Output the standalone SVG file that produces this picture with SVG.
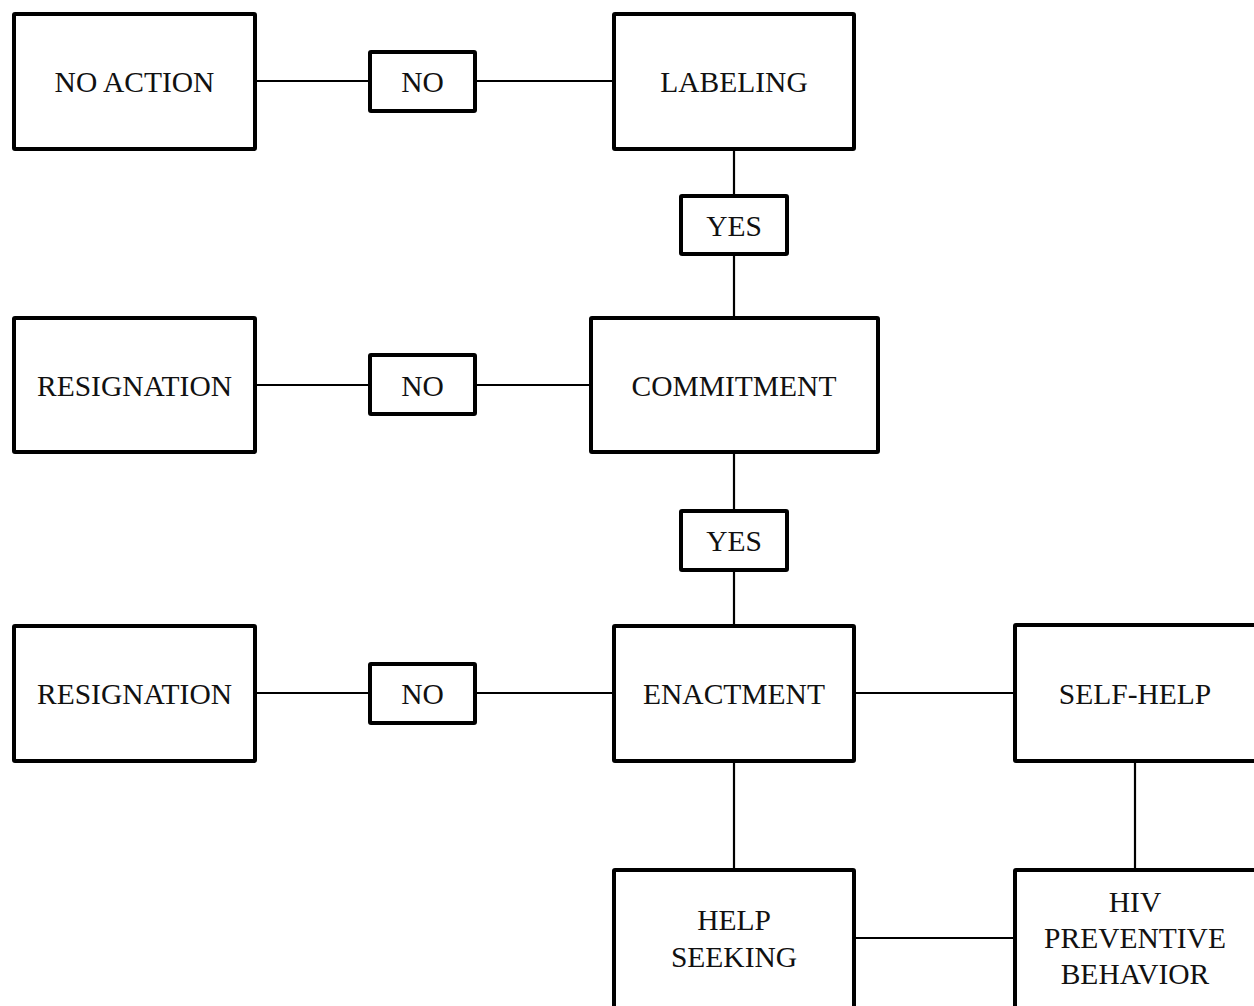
<svg xmlns="http://www.w3.org/2000/svg" width="1254" height="1006" viewBox="0 0 1254 1006">
<style>
.box{fill:#fff;stroke:#000;stroke-width:4;stroke-linejoin:round}
.lbl{fill:#fff;stroke:#000;stroke-width:4;stroke-linejoin:round}
.t{font-family:"Liberation Serif","Times New Roman",serif;font-size:29.5px;fill:#111;text-anchor:middle}
.c{stroke:#000;stroke-width:2.2;fill:none}
</style>
<rect width="1254" height="1006" fill="#fff"/>
<g id="connectors">
<line class="c" x1="256" y1="81" x2="370" y2="81"/>
<line class="c" x1="476" y1="81" x2="612" y2="81"/>
<line class="c" x1="734" y1="150" x2="734" y2="195"/>
<line class="c" x1="734" y1="255" x2="734" y2="317"/>
<line class="c" x1="256" y1="385" x2="370" y2="385"/>
<line class="c" x1="476" y1="385" x2="590" y2="385"/>
<line class="c" x1="734" y1="453" x2="734" y2="510"/>
<line class="c" x1="734" y1="571" x2="734" y2="625"/>
<line class="c" x1="256" y1="693" x2="370" y2="693"/>
<line class="c" x1="476" y1="693" x2="612" y2="693"/>
<line class="c" x1="856" y1="693" x2="1014" y2="693"/>
<line class="c" x1="734" y1="762" x2="734" y2="869"/>
<line class="c" x1="1135" y1="762" x2="1135" y2="869"/>
<line class="c" x1="856" y1="938" x2="1014" y2="938"/>
</g>
<g id="no-action"><rect class="box" x="14" y="14" width="241" height="135" rx="1"/><text class="t" x="134.5" y="91.5">NO ACTION</text></g>
<g id="no1"><rect class="lbl" x="370" y="52" width="105" height="59" rx="1"/><text class="t" x="422.5" y="91.5">NO</text></g>
<g id="labeling"><rect class="box" x="614" y="14" width="240" height="135" rx="1"/><text class="t" x="734" y="91.5">LABELING</text></g>
<g id="yes1"><rect class="lbl" x="681" y="196" width="106" height="58" rx="1"/><text class="t" x="734" y="235.5">YES</text></g>
<g id="resignation1"><rect class="box" x="14" y="318" width="241" height="134" rx="1"/><text class="t" x="134.5" y="395.5">RESIGNATION</text></g>
<g id="no2"><rect class="lbl" x="370" y="355" width="105" height="59" rx="1"/><text class="t" x="422.5" y="395.5">NO</text></g>
<g id="commitment"><rect class="box" x="591" y="318" width="287" height="134" rx="1"/><text class="t" x="734" y="395.5">COMMITMENT</text></g>
<g id="yes2"><rect class="lbl" x="681" y="511" width="106" height="59" rx="1"/><text class="t" x="734" y="550.5">YES</text></g>
<g id="resignation2"><rect class="box" x="14" y="626" width="241" height="135" rx="1"/><text class="t" x="134.5" y="703.5">RESIGNATION</text></g>
<g id="no3"><rect class="lbl" x="370" y="664" width="105" height="59" rx="1"/><text class="t" x="422.5" y="703.5">NO</text></g>
<g id="enactment"><rect class="box" x="614" y="626" width="240" height="135" rx="1"/><text class="t" x="734" y="703.5">ENACTMENT</text></g>
<g id="self-help"><rect class="box" x="1015" y="625" width="244" height="136" rx="1"/><text class="t" x="1135" y="703.5">SELF-HELP</text></g>
<g id="help-seeking"><rect class="box" x="614" y="870" width="240" height="140" rx="1"/><text class="t" x="734" y="930">HELP</text><text class="t" x="734" y="967">SEEKING</text></g>
<g id="hiv"><rect class="box" x="1015" y="870" width="244" height="140" rx="1"/><text class="t" x="1135" y="912">HIV</text><text class="t" x="1135" y="948">PREVENTIVE</text><text class="t" x="1135" y="984">BEHAVIOR</text></g>
</svg>
